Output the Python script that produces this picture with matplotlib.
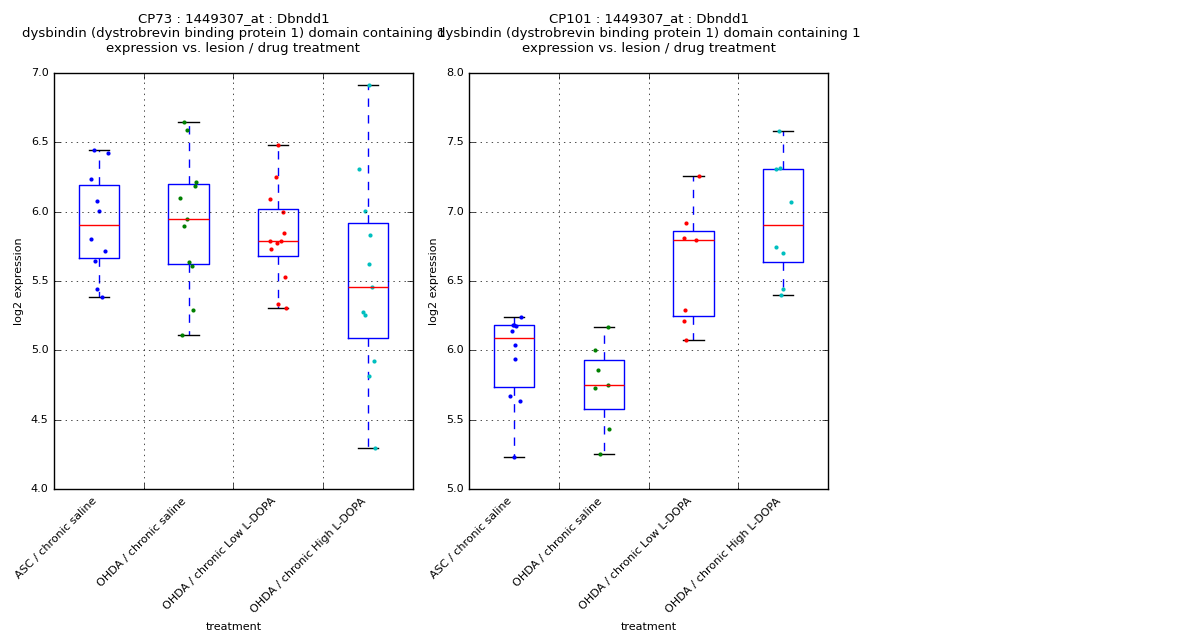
import numpy as np
import matplotlib
matplotlib.use('Agg')
import matplotlib.pyplot as plt

plt.style.use('classic')

groups = ['ASC / chronic saline', 'OHDA / chronic saline',
          'OHDA / chronic Low L-DOPA', 'OHDA / chronic High L-DOPA']

# CP73 - values
cp73_vals = [
    [6.447, 6.425, 6.233, 6.075, 6.002, 5.800, 5.719, 5.647, 5.440, 5.387],
    [6.644, 6.587, 6.216, 6.188, 6.096, 5.950, 5.894, 5.635, 5.606, 5.288, 5.108],
    [6.483, 6.252, 6.089, 5.995, 5.844, 5.791, 5.791, 5.772, 5.728, 5.526, 5.332, 5.303],
    [6.911, 6.305, 6.002, 5.829, 5.620, 5.459, 5.274, 5.252, 4.921, 4.812, 4.293],
]
# jitter of the dots (x offset from group centre)
cp73_jit = [
    [-0.059, 0.097, -0.093, -0.026, 0.007, -0.082, 0.074, -0.048, -0.026, 0.030],
    [-0.048, -0.019, 0.085, 0.074, -0.093, -0.015, -0.048, 0.007, 0.041, 0.052, -0.071],
    [0.0, -0.022, -0.093, 0.056, 0.067, -0.089, 0.033, -0.011, -0.078, 0.078, 0.0, 0.089],
    [0.011, -0.097, -0.030, 0.022, 0.011, 0.045, -0.056, -0.033, 0.067, 0.011, 0.078],
]

# CP101
cp101_vals = [
    [6.243, 6.185, 6.180, 6.178, 6.142, 6.041, 5.935, 5.668, 5.632, 5.228],
    [6.166, 6.000, 5.856, 5.747, 5.726, 5.430, 5.250],
    [7.260, 6.916, 6.808, 6.793, 6.288, 6.209, 6.072],
    [7.584, 7.305, 7.312, 7.067, 6.743, 6.700, 6.440, 6.397],
]
cp101_jit = [
    [0.074, -0.015, 0.0, 0.019, -0.026, 0.007, 0.007, -0.048, 0.063, -0.004],
    [0.048, -0.093, -0.059, 0.052, -0.093, 0.063, -0.037],
    [0.067, -0.085, -0.100, 0.033, -0.093, -0.100, -0.078],
    [-0.045, -0.078, -0.033, 0.082, -0.078, -0.007, -0.007, -0.022],
]

dot_colors = ['b', 'g', 'r', 'c']

panels = [
    ('CP73', cp73_vals, cp73_jit, (4.0, 7.0)),
    ('CP101', cp101_vals, cp101_jit, (5.0, 8.0)),
]

fig = plt.figure(figsize=(12, 6.4), dpi=100, facecolor='white')
lefts = [0.045, 0.391]

for left, (name, vals, jit, ylim) in zip(lefts, panels):
    ax = fig.add_axes([left, 0.236, 0.299, 0.65])
    ax.boxplot(vals, sym='')
    for i, (v, j) in enumerate(zip(vals, jit)):
        x = np.array(j) + i + 1
        ax.plot(x, v, 'o', color=dot_colors[i], ms=3, mec='none')
    ax.set_ylim(ylim)
    ax.set_xlim(0.5, 4.5)
    # grid / ticks between the groups, labels at the group centres
    ax.set_xticks([1.5, 2.5, 3.5])
    ax.set_xticklabels([])
    ax.set_xticks([1, 2, 3, 4], minor=True)
    ax.set_xticklabels(groups, minor=True, rotation=45, ha='right', fontsize=8)
    ax.tick_params(axis='x', which='minor', length=0, pad=5)
    ax.tick_params(axis='y', labelsize=8)
    ax.yaxis.set_major_formatter(matplotlib.ticker.FormatStrFormatter('%.1f'))
    ax.grid(True, which='major')
    ax.set_xlabel('treatment', fontsize=8)
    ax.set_ylabel('log2 expression', fontsize=8)
    ax.set_title(name + ' : 1449307_at : Dbndd1\n'
                 'dysbindin (dystrobrevin binding protein 1) domain containing 1\n'
                 'expression vs. lesion / drug treatment', fontsize=9.5, pad=15)

fig.savefig('out.png', dpi=100, facecolor='white')
